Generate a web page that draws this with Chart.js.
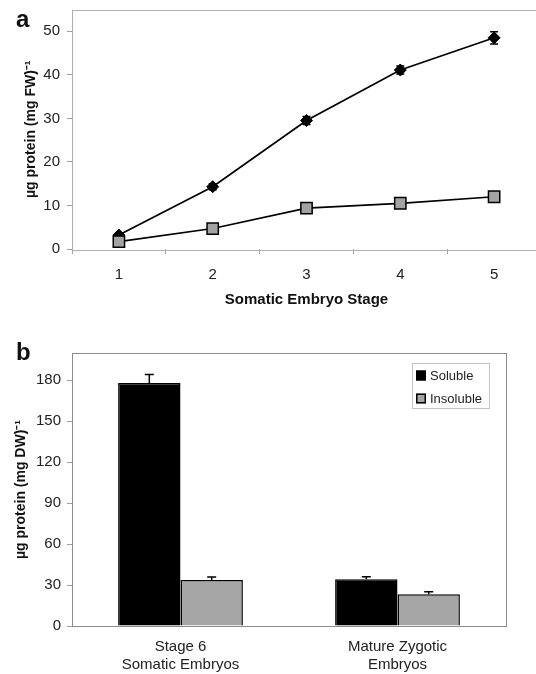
<!DOCTYPE html>
<html>
<head>
<meta charset="utf-8">
<script src="https://cdn.jsdelivr.net/npm/chart.js@4.4.0/dist/chart.umd.min.js"></script>
<style>
  body { margin: 0; background: #fff; width: 536px; height: 674px; overflow: hidden; position: relative; font-family: "Liberation Sans", Arial, sans-serif; }
  .panel-label { position: absolute; left: 16px; font-weight: bold; font-size: 24px; line-height: 24px; color: #111; }
  #wrapA { position: absolute; left: 0; top: 0; width: 560px; height: 310px; }
  #wrapB { position: absolute; left: 0; top: 330px; width: 536px; height: 344px; }
</style>
</head>
<body>
<div id="wrapA"><canvas id="stageChart" width="560" height="310"></canvas></div>
<div id="wrapB"><canvas id="embryoChart" width="536" height="344"></canvas></div>
<div class="panel-label" style="top:7px">a</div>
<div class="panel-label" style="top:340px">b</div>
<script>
// panel a - protein per fresh weight by somatic embryo stage
const stages = ['1', '2', '3', '4', '5'];
const solubleFW = [3.2, 14.3, 29.5, 41.1, 48.5];
const solubleFWErr = [0.5, 0.7, 0.9, 0.9, 1.4];
const insolubleFW = [1.7, 4.7, 9.4, 10.5, 12.0];
const insolubleFWErr = [0.3, 0.4, 0.5, 0.5, 0.5];
const fwMax = 55;
const fwStep = 10;

// panel b - protein per dry weight
const embryoTypes = [['Stage 6', 'Somatic Embryos'], ['Mature Zygotic', 'Embryos']];
const seriesNames = ['Soluble', 'Insoluble'];
const solubleDW = [178, 34.2];
const solubleDWErr = [6.2, 1.9];
const insolubleDW = [33.7, 23.2];
const insolubleDWErr = [2.2, 1.9];
const dwMax = 200;
const dwStep = 30;

const fontFamily = '"Liberation Sans", Arial, sans-serif';
Chart.defaults.font.family = fontFamily;
Chart.defaults.color = '#222';

const plotBox = {
    id: 'plotBox',
    beforeDatasetsDraw(chart, args, opts) {
        const { ctx, chartArea: a } = chart;
        ctx.save();
        ctx.strokeStyle = opts.color;
        ctx.lineWidth = 1;
        ctx.strokeRect(Math.round(a.left) + 0.5, Math.round(a.top) + 0.5,
            Math.round(a.right - a.left), Math.round(a.bottom - a.top));
        ctx.restore();
    }
};

// drawn under the markers, like the spreadsheet does
const errorBars = {
    id: 'errorBars',
    beforeDatasetsDraw(chart, args, opts) {
        const { ctx } = chart;
        const yScale = chart.scales.y;
        ctx.save();
        ctx.strokeStyle = '#000';
        ctx.lineWidth = 1.5;
        chart.data.datasets.forEach((ds, i) => {
            if (!ds.errors) return;
            chart.getDatasetMeta(i).data.forEach((el, j) => {
                const v = ds.data[j];
                const e = ds.errors[j];
                const top = yScale.getPixelForValue(v + e);
                const bottom = yScale.getPixelForValue(opts.upOnly ? v : v - e);
                ctx.beginPath();
                ctx.moveTo(el.x, bottom);
                ctx.lineTo(el.x, top);
                ctx.moveTo(el.x - opts.cap, top);
                ctx.lineTo(el.x + opts.cap, top);
                if (!opts.upOnly) {
                    ctx.moveTo(el.x - opts.cap, bottom);
                    ctx.lineTo(el.x + opts.cap, bottom);
                }
                ctx.stroke();
            });
        });
        ctx.restore();
    }
};

const boxLegend = {
    id: 'boxLegend',
    afterDraw(chart) {
        const { ctx, chartArea: a } = chart;
        const items = chart.data.datasets;
        ctx.save();
        ctx.font = '13px ' + fontFamily;
        const textW = Math.max(...items.map(d => ctx.measureText(d.label).width));
        const w = Math.round(4 + 10 + 4 + textW + 7);
        const h = 45;
        const x = Math.round(a.right - 17 - w);
        const y = Math.round(a.top + 10);
        ctx.fillStyle = '#fff';
        ctx.fillRect(x, y, w, h);
        ctx.strokeStyle = '#c4c4c4';
        ctx.lineWidth = 1;
        ctx.strokeRect(x + 0.5, y + 0.5, w, h);
        items.forEach((d, i) => {
            const cy = y + 12.5 + i * 23;
            ctx.fillStyle = d.backgroundColor;
            ctx.fillRect(x + 4, cy - 5, 10, 10);
            ctx.strokeStyle = '#000';
            ctx.lineWidth = 1.5;
            ctx.strokeRect(x + 4.75, cy - 4.25, 8.5, 8.5);
            ctx.fillStyle = '#222';
            ctx.textBaseline = 'middle';
            ctx.textAlign = 'left';
            ctx.fillText(d.label, x + 18, cy + 0.5);
        });
        ctx.restore();
    }
};

const tickGrid = { drawOnChartArea: false, drawTicks: true, tickLength: 5, color: '#a0a0a0' };

// fixed axis sizes, and no extra room for half a tick label
const fixWidth = w => s => { s.width = w; s.paddingTop = 0; s.paddingBottom = 0; };
const fixHeight = h => s => { s.height = h; s.paddingLeft = 0; s.paddingRight = 0; };

new Chart(document.getElementById('stageChart'), {
    type: 'line',
    data: {
        labels: stages,
        datasets: [{
            label: 'Soluble',
            data: solubleFW,
            errors: solubleFWErr,
            borderColor: '#000',
            borderWidth: 1.7,
            backgroundColor: '#000',
            pointStyle: 'rectRot',
            pointRadius: 6,
            pointBorderWidth: 1,
            pointBorderColor: '#000',
            order: 2
        }, {
            label: 'Insoluble',
            data: insolubleFW,
            errors: insolubleFWErr,
            borderColor: '#000',
            borderWidth: 1.7,
            backgroundColor: '#a3a3a3',
            pointStyle: 'rect',
            pointRadius: 8,
            pointBorderWidth: 1.5,
            pointBorderColor: '#000',
            order: 1
        }]
    },
    options: {
        responsive: false,
        animation: false,
        layout: { padding: { top: 9, right: 19, left: 0, bottom: 0 } },
        plugins: {
            legend: { display: false },
            tooltip: { enabled: false },
            plotBox: { color: '#b0b0b0' },
            errorBars: { cap: 4, upOnly: false }
        },
        scales: {
            x: {
                type: 'category',
                offset: true,
                grid: { ...tickGrid, offset: true },
                border: { display: false },
                ticks: { color: '#222', font: { size: 15 }, padding: 12 },
                title: {
                    display: true,
                    text: 'Somatic Embryo Stage',
                    color: '#111',
                    font: { size: 15, weight: 'bold' },
                    padding: { top: 0, bottom: 1 }
                },
                afterFit: fixHeight(61)
            },
            y: {
                min: 0,
                max: fwMax,
                grid: tickGrid,
                border: { display: false },
                ticks: { stepSize: fwStep, includeBounds: false, color: '#222', font: { size: 15 }, padding: 7 },
                title: {
                    display: true,
                    text: 'µg protein (mg FW)⁻¹',
                    color: '#111',
                    font: { size: 14, weight: 'bold' },
                    padding: { top: 23, bottom: 0 }
                },
                afterFit: fixWidth(72)
            }
        }
    },
    plugins: [plotBox, errorBars]
});

new Chart(document.getElementById('embryoChart'), {
    type: 'bar',
    data: {
        labels: embryoTypes,
        datasets: [{
            label: seriesNames[0],
            data: solubleDW,
            errors: solubleDWErr,
            backgroundColor: '#000',
            borderColor: '#000',
            borderWidth: 1.5
        }, {
            label: seriesNames[1],
            data: insolubleDW,
            errors: insolubleDWErr,
            backgroundColor: '#a6a6a6',
            borderColor: '#000',
            borderWidth: 1.5
        }]
    },
    options: {
        responsive: false,
        animation: false,
        categoryPercentage: 0.575,
        barPercentage: 1.0,
        layout: { padding: { top: 23, right: 30, left: 0, bottom: 0 } },
        plugins: {
            legend: { display: false },
            tooltip: { enabled: false },
            plotBox: { color: '#8c8c8c' },
            errorBars: { cap: 4.5, upOnly: true }
        },
        scales: {
            x: {
                grid: { display: true, drawOnChartArea: false, drawTicks: false, color: 'rgba(0,0,0,0)' },
                border: { display: false },
                ticks: { color: '#222', font: { size: 15 }, padding: 12 },
                afterFit: fixHeight(48)
            },
            y: {
                min: 0,
                max: dwMax,
                grid: tickGrid,
                border: { display: false },
                ticks: { stepSize: dwStep, includeBounds: false, color: '#222', font: { size: 15 }, padding: 6 },
                title: {
                    display: true,
                    text: 'µg protein (mg DW)⁻¹',
                    color: '#111',
                    font: { size: 14, weight: 'bold' },
                    padding: { top: 13, bottom: 0 }
                },
                afterFit: fixWidth(72)
            }
        }
    },
    plugins: [plotBox, errorBars, boxLegend]
});
</script>
</body>
</html>
